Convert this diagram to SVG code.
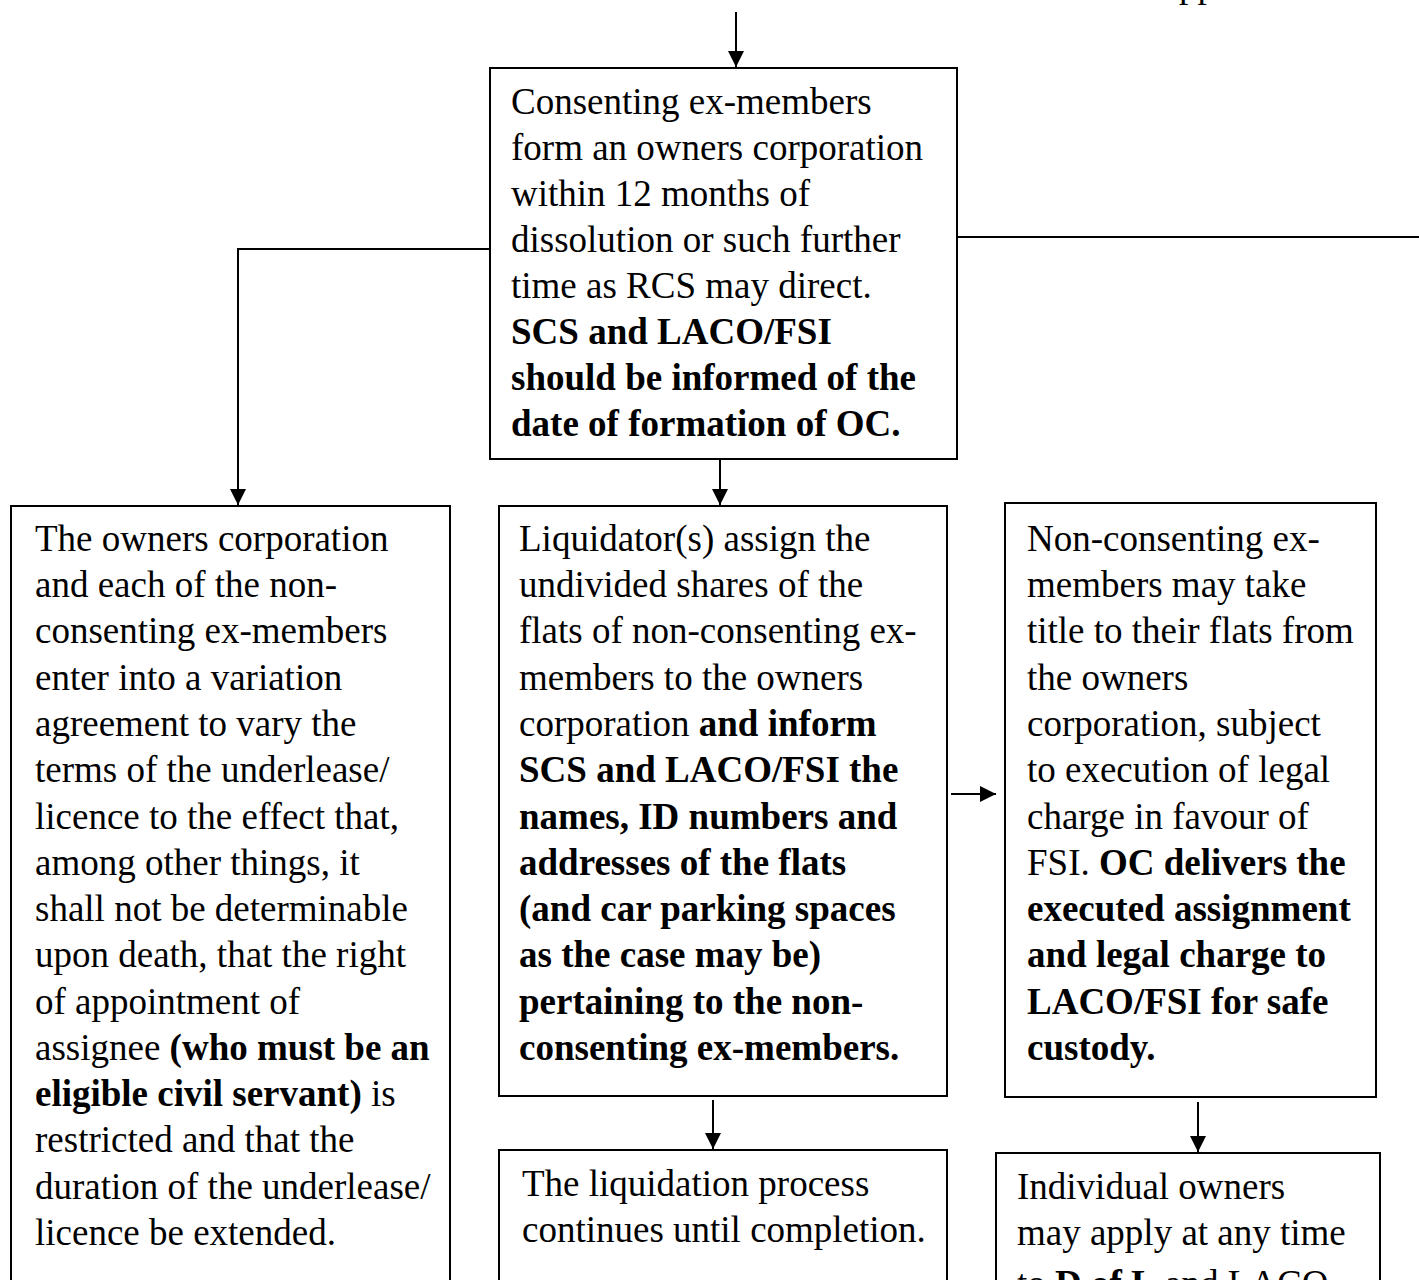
<svg xmlns="http://www.w3.org/2000/svg" width="1419" height="1280" viewBox="0 0 1419 1280">
<defs>
<marker id="arr" markerWidth="16" markerHeight="16" refX="16" refY="8" orient="auto" markerUnits="userSpaceOnUse" viewBox="0 0 16 16">
<path d="M0,0 L16,8 L0,16 Z" fill="#000"/>
</marker>
<style>
text{font-family:"Liberation Serif","Times New Roman",serif;font-size:37px;fill:#000}
.b{font-weight:bold}
.box{fill:#fff;stroke:#000;stroke-width:2}
.c{fill:none;stroke:#000;stroke-width:2}
</style>
</defs>
<rect width="1419" height="1280" fill="#fff"/>
<text x="1179" y="-3">pp</text>
<g id="connectors">
<path class="c" d="M736,12 V67" marker-end="url(#arr)"/>
<path class="c" d="M489,249 H238 V505" marker-end="url(#arr)"/>
<path class="c" d="M958,237 H1419"/>
<path class="c" d="M720,460 V505" marker-end="url(#arr)"/>
<path class="c" d="M951,794 H996" marker-end="url(#arr)"/>
<path class="c" d="M713,1100 V1149" marker-end="url(#arr)"/>
<path class="c" d="M1198,1102 V1152" marker-end="url(#arr)"/>
</g>
<g id="node-oc">
<rect class="box" x="490" y="68" width="467" height="391"/>
<text x="511" y="114">Consenting ex-members</text>
<text x="511" y="160">form an owners corporation</text>
<text x="511" y="206">within 12 months of</text>
<text x="511" y="252">dissolution or such further</text>
<text x="511" y="298">time as RCS may direct.</text>
<text x="511" y="344" class="b">SCS and LACO/FSI</text>
<text x="511" y="390" class="b">should be informed of the</text>
<text x="511" y="436" class="b">date of formation of OC.</text>
</g>
<g id="node-variation">
<rect class="box" x="11" y="506" width="439" height="800"/>
<text x="35" y="551">The owners corporation</text>
<text x="35" y="597">and each of the non-</text>
<text x="35" y="643">consenting ex-members</text>
<text x="35" y="690">enter into a variation</text>
<text x="35" y="736">agreement to vary the</text>
<text x="35" y="782">terms of the underlease/</text>
<text x="35" y="829">licence to the effect that,</text>
<text x="35" y="875">among other things, it</text>
<text x="35" y="921">shall not be determinable</text>
<text x="35" y="967">upon death, that the right</text>
<text x="35" y="1014">of appointment of</text>
<text x="35" y="1060">assignee <tspan class="b">(who must be an</tspan></text>
<text x="35" y="1106"><tspan class="b">eligible civil servant)</tspan> is</text>
<text x="35" y="1152">restricted and that the</text>
<text x="35" y="1199">duration of the underlease/</text>
<text x="35" y="1245">licence be extended.</text>
</g>
<g id="node-liquidator">
<rect class="box" x="499" y="506" width="448" height="590"/>
<text x="519" y="551">Liquidator(s) assign the</text>
<text x="519" y="597">undivided shares of the</text>
<text x="519" y="643">flats of non-consenting ex-</text>
<text x="519" y="690">members to the owners</text>
<text x="519" y="736">corporation <tspan class="b">and inform</tspan></text>
<text x="519" y="782" class="b">SCS and LACO/FSI the</text>
<text x="519" y="829" class="b">names, ID numbers and</text>
<text x="519" y="875" class="b">addresses of the flats</text>
<text x="519" y="921" class="b">(and car parking spaces</text>
<text x="519" y="967" class="b">as the case may be)</text>
<text x="519" y="1014" class="b">pertaining to the non-</text>
<text x="519" y="1060" class="b">consenting ex-members.</text>
</g>
<g id="node-title">
<rect class="box" x="1005" y="503" width="371" height="594"/>
<text x="1027" y="551">Non-consenting ex-</text>
<text x="1027" y="597">members may take</text>
<text x="1027" y="643">title to their flats from</text>
<text x="1027" y="690">the owners</text>
<text x="1027" y="736">corporation, subject</text>
<text x="1027" y="782">to execution of legal</text>
<text x="1027" y="829">charge in favour of</text>
<text x="1027" y="875">FSI. <tspan class="b">OC delivers the</tspan></text>
<text x="1027" y="921" class="b">executed assignment</text>
<text x="1027" y="967" class="b">and legal charge to</text>
<text x="1027" y="1014" class="b">LACO/FSI for safe</text>
<text x="1027" y="1060" class="b">custody.</text>
</g>
<g id="node-liquidation">
<rect class="box" x="499" y="1150" width="448" height="160"/>
<text x="522" y="1196">The liquidation process</text>
<text x="522" y="1242">continues until completion.</text>
</g>
<g id="node-individual">
<rect class="box" x="996" y="1153" width="384" height="160"/>
<text x="1017" y="1199">Individual owners</text>
<text x="1017" y="1245">may apply at any time</text>
<text x="1017" y="1296">to <tspan class="b">D of L</tspan> and LACO</text>
</g>
</svg>
